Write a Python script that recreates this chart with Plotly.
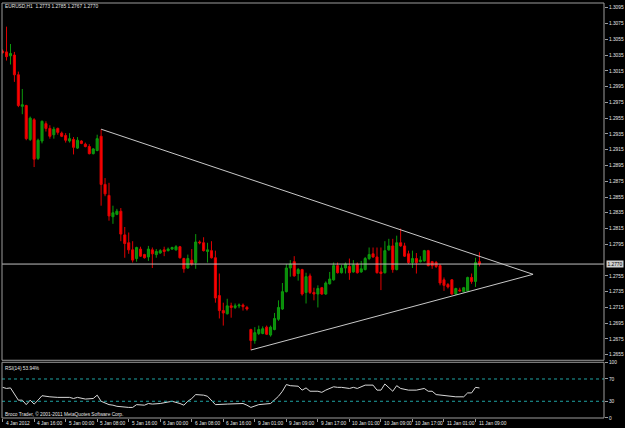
import plotly.graph_objects as go

# ---------------- data ----------------
symbol = "EURUSD,H1"
bar_index = list(range(122))

opens = [1.3040, 1.3039, 1.3034, 1.3035, 1.3010, 1.2970, 1.2971, 1.2928, 1.2953, 1.2904,
         1.2926, 1.2948, 1.2942, 1.2934, 1.2942, 1.2936, 1.2933, 1.2926, 1.2928, 1.2917,
         1.2926, 1.2922, 1.2919, 1.2910, 1.2914, 1.2932, 1.2871, 1.2857, 1.2830, 1.2833,
         1.2837, 1.2807, 1.2797, 1.2788, 1.2777, 1.2789, 1.2782, 1.2779, 1.2788, 1.2782,
         1.2784, 1.2788, 1.2787, 1.2789, 1.2788, 1.2792, 1.2777, 1.2765, 1.2775, 1.2772,
         1.2798, 1.2797, 1.2786, 1.2787, 1.2778, 1.2730, 1.2711, 1.2707, 1.2717, 1.2715,
         1.2717, 1.2718, 1.2715, 1.2687, 1.2673, 1.2682, 1.2682, 1.2690, 1.2680, 1.2687,
         1.2700, 1.2713, 1.2735, 1.2765, 1.2773, 1.2758, 1.2763, 1.2734, 1.2755, 1.2734,
         1.2732, 1.2740, 1.2732, 1.2745, 1.2750, 1.2768, 1.2759, 1.2765, 1.2767, 1.2760,
         1.2770, 1.2760, 1.2763, 1.2777, 1.2783, 1.2779, 1.2760, 1.2759, 1.2788, 1.2793,
         1.2763, 1.2797, 1.2793, 1.2783, 1.2772, 1.2777, 1.2773, 1.2774, 1.2787, 1.2773,
         1.2772, 1.2768, 1.2750, 1.2744, 1.2750, 1.2732, 1.2737, 1.2735, 1.2736, 1.2753,
         1.2748, 1.2773]

highs = [1.3042, 1.3071, 1.3049, 1.3039, 1.3014, 1.2992, 1.2972, 1.2957, 1.2955, 1.2929,
         1.2952, 1.2951, 1.2946, 1.2944, 1.2943, 1.2938, 1.2936, 1.2936, 1.2931, 1.2931,
         1.2927, 1.2924, 1.2922, 1.2917, 1.2934, 1.2941, 1.2879, 1.2873, 1.2844, 1.2840,
         1.2841, 1.2817, 1.2810, 1.2799, 1.2792, 1.2792, 1.2783, 1.2793, 1.2791, 1.2789,
         1.2789, 1.2792, 1.2791, 1.2792, 1.2794, 1.2793, 1.2778, 1.2782, 1.2789, 1.2808,
         1.2800, 1.2804, 1.2797, 1.2799, 1.2787, 1.2758, 1.2721, 1.2726, 1.2721, 1.2720,
         1.2720, 1.2720, 1.2717, 1.2688, 1.2690, 1.2692, 1.2691, 1.2692, 1.2692, 1.2708,
         1.2724, 1.2746, 1.2770, 1.2775, 1.2780, 1.2765, 1.2764, 1.2759, 1.2758, 1.2740,
         1.2743, 1.2741, 1.2748, 1.2760, 1.2772, 1.2772, 1.2769, 1.2772, 1.2777, 1.2775,
         1.2772, 1.2774, 1.2779, 1.2791, 1.2791, 1.2791, 1.2791, 1.2799, 1.2802, 1.2802,
         1.2806, 1.2815, 1.2797, 1.2787, 1.2787, 1.2784, 1.2780, 1.2788, 1.2788, 1.2774,
         1.2774, 1.2770, 1.2753, 1.2746, 1.2751, 1.2740, 1.2740, 1.2741, 1.2754, 1.2758,
         1.2778, 1.2785]

lows = [1.3037, 1.3028, 1.3023, 1.3001, 1.2969, 1.2960, 1.2927, 1.2926, 1.2893, 1.2902,
        1.2923, 1.2938, 1.2929, 1.2929, 1.2934, 1.2931, 1.2924, 1.2924, 1.2909, 1.2916,
        1.2922, 1.2918, 1.2909, 1.2909, 1.2913, 1.2844, 1.2856, 1.2825, 1.2821, 1.2832,
        1.2799, 1.2778, 1.2783, 1.2772, 1.2773, 1.2779, 1.2777, 1.2774, 1.2765, 1.2778,
        1.2783, 1.2780, 1.2786, 1.2788, 1.2787, 1.2777, 1.2759, 1.2764, 1.2768, 1.2764,
        1.2795, 1.2786, 1.2772, 1.2777, 1.2721, 1.2701, 1.2692, 1.2706, 1.2702, 1.2713,
        1.2714, 1.2711, 1.2711, 1.2661, 1.2669, 1.2680, 1.2681, 1.2680, 1.2678, 1.2686,
        1.2698, 1.2712, 1.2734, 1.2754, 1.2754, 1.2749, 1.2730, 1.2720, 1.2732, 1.2724,
        1.2715, 1.2731, 1.2731, 1.2744, 1.2749, 1.2758, 1.2758, 1.2758, 1.2750, 1.2759,
        1.2758, 1.2759, 1.2762, 1.2775, 1.2778, 1.2758, 1.2737, 1.2758, 1.2787, 1.2759,
        1.2762, 1.2792, 1.2779, 1.2770, 1.2765, 1.2758, 1.2772, 1.2773, 1.2767, 1.2764,
        1.2765, 1.2743, 1.2736, 1.2739, 1.2731, 1.2731, 1.2735, 1.2734, 1.2735, 1.2745,
        1.2741, 1.2767]

closes = [1.3038, 1.3033, 1.3037, 1.3010, 1.2971, 1.2972, 1.2929, 1.2955, 1.2903, 1.2927,
          1.2951, 1.2942, 1.2932, 1.2941, 1.2937, 1.2932, 1.2927, 1.2929, 1.2918, 1.2927,
          1.2923, 1.2919, 1.2910, 1.2916, 1.2929, 1.2871, 1.2859, 1.2831, 1.2835, 1.2837,
          1.2808, 1.2796, 1.2788, 1.2775, 1.2791, 1.2780, 1.2778, 1.2789, 1.2783, 1.2786,
          1.2787, 1.2786, 1.2789, 1.2791, 1.2792, 1.2778, 1.2764, 1.2777, 1.2770, 1.2798,
          1.2797, 1.2787, 1.2788, 1.2778, 1.2727, 1.2711, 1.2708, 1.2717, 1.2715, 1.2717,
          1.2718, 1.2716, 1.2713, 1.2673, 1.2683, 1.2687, 1.2688, 1.2681, 1.2690, 1.2701,
          1.2715, 1.2735, 1.2765, 1.2770, 1.2755, 1.2763, 1.2732, 1.2754, 1.2734, 1.2732,
          1.2739, 1.2732, 1.2746, 1.2751, 1.2768, 1.2759, 1.2765, 1.2770, 1.2759, 1.2769,
          1.2759, 1.2764, 1.2777, 1.2782, 1.2779, 1.2759, 1.2758, 1.2787, 1.2793, 1.2763,
          1.2797, 1.2793, 1.2780, 1.2772, 1.2777, 1.2772, 1.2775, 1.2787, 1.2768, 1.2768,
          1.2767, 1.2746, 1.2743, 1.2741, 1.2732, 1.2739, 1.2736, 1.2740, 1.2753, 1.2748,
          1.2772, 1.2770]

# RSI(14) (bar index, value)
rsi_idx = [0, 1, 2, 4, 5, 6, 7, 8, 9, 10, 12, 14, 17, 18, 19, 21, 23, 24, 25, 27,
           28, 29, 32, 33, 34, 36, 37, 38, 40, 42, 43, 45, 46, 47, 48, 49, 51, 52, 53, 54,
           57, 59, 61, 62, 63, 65, 67, 68, 70, 71, 72, 73, 75, 76, 77, 78, 80, 81, 82, 84,
           85, 86, 88, 89, 90, 92, 94, 95, 96, 97, 99, 100, 101, 103, 105, 107, 108, 109, 110, 112,
           114, 115, 117, 118, 119, 120, 121]
rsi_val = [55, 53, 54, 32, 32, 24, 32, 25, 32, 40, 38, 37, 37, 35, 37, 34, 35, 41, 30, 24,
           23, 21, 19, 19, 24, 23, 26, 25, 26, 28, 30, 26, 23, 30, 35, 42, 41, 39, 32, 24,
           25, 26, 26, 23, 19, 24, 25, 26, 39, 48, 60, 58, 57, 50, 54, 48, 48, 46, 50, 56,
           55, 55, 53, 55, 53, 59, 59, 50, 50, 61, 48, 58, 53, 50, 50, 53, 48, 48, 42, 40,
           38, 38, 38, 45, 45, 55, 53.94]
rsi_levels = [70, 30]
rsi_ticks = [100, 70, 30, 0]

# trendlines (bar index, price)
upper_line_x = [25, 134.6]
upper_line_y = [1.2941, 1.2757]
lower_line_x = [63, 134.6]
lower_line_y = [1.2661, 1.2757]

bid_price = 1.2770

price_ticks = [1.3095, 1.3075, 1.3055, 1.3035, 1.3015, 1.2995, 1.2975, 1.2955, 1.2935,
               1.2915, 1.2895, 1.2875, 1.2855, 1.2835, 1.2815, 1.2795, 1.2755, 1.2735,
               1.2715, 1.2695, 1.2675, 1.2655]

date_tick_idx = [0, 8, 16, 24, 32, 40, 48, 56, 64, 72, 80, 88, 96, 104, 112, 120]
date_tick_text = ["4 Jan 2012", "4 Jan 16:00", "5 Jan 00:00", "5 Jan 08:00", "5 Jan 16:00",
                  "6 Jan 00:00", "6 Jan 08:00", "6 Jan 16:00", "9 Jan 01:00", "9 Jan 09:00",
                  "9 Jan 17:00", "10 Jan 01:00", "10 Jan 09:00", "10 Jan 17:00",
                  "11 Jan 01:00", "11 Jan 09:00"]

# ---------------- layout helpers ----------------
W, H = 625, 428
ML, MR, MT, MB = 2, 19, 1, 10
PW = W - ML - MR
PH = H - MT - MB


def fx(px):
    return (px - ML) / PW


def fy(py):
    return (H - MB - py) / PH


FONT = "Liberation Sans Narrow, Liberation Sans, Arial, sans-serif"
TXT = "#e6e6e6"
BORDER = "#9c9c9c"
FS = 4.8

main_dom = [fy(360), 1.0]
rsi_dom = [0.0, fy(362)]
xr = [-0.15, 152.6]

fig = go.Figure()

fig.add_trace(go.Candlestick(
    x=bar_index, open=opens, high=highs, low=lows, close=closes,
    increasing=dict(line=dict(color="#0c9a0c", width=1), fillcolor="#0c8c0c"),
    decreasing=dict(line=dict(color="#e00000", width=1), fillcolor="#ff0000"),
    whiskerwidth=0, xaxis="x", yaxis="y", showlegend=False, hoverinfo="skip"))

for lx, ly in ((upper_line_x, upper_line_y), (lower_line_x, lower_line_y)):
    fig.add_trace(go.Scatter(x=lx, y=ly, mode="lines", xaxis="x", yaxis="y",
                             line=dict(color="#c8c8c8", width=1), showlegend=False,
                             hoverinfo="skip"))

fig.add_trace(go.Scatter(x=rsi_idx, y=rsi_val, mode="lines", xaxis="x2", yaxis="y2",
                         line=dict(color="#d8d8d8", width=1), showlegend=False,
                         hoverinfo="skip"))

shapes = []
# bid line
shapes.append(dict(type="line", xref="x domain", yref="y", x0=0, x1=1,
                   y0=bid_price, y1=bid_price, line=dict(color="#c0c0c0", width=1)))
# RSI levels
for lv in rsi_levels:
    shapes.append(dict(type="line", xref="x2 domain", yref="y2", x0=0, x1=1,
                       y0=lv, y1=lv, line=dict(color="#1fa3a3", width=1, dash="dot")))
# pane borders
shapes.append(dict(type="rect", xref="paper", yref="paper", x0=0, x1=1,
                   y0=main_dom[0], y1=1, line=dict(color=BORDER, width=1)))
shapes.append(dict(type="rect", xref="paper", yref="paper", x0=0, x1=1,
                   y0=0, y1=rsi_dom[1], line=dict(color=BORDER, width=1)))

annotations = []
header = "%s  %.4f %.4f %.4f %.4f" % (symbol, opens[-1], highs[-1], lows[-1], closes[-1])
annotations.append(dict(text=header, xref="paper", yref="paper", x=fx(3), y=fy(5),
                        xanchor="left", yanchor="middle", showarrow=False,
                        font=dict(family=FONT, size=FS, color=TXT)))
annotations.append(dict(text="RSI(14) %.2f%%" % rsi_val[-1], xref="paper", yref="paper",
                        x=fx(3), y=fy(368), xanchor="left", yanchor="middle",
                        showarrow=False, font=dict(family=FONT, size=FS, color=TXT)))
annotations.append(dict(text="Broco Trader, © 2001-2011 MetaQuotes Software Corp.",
                        xref="paper", yref="paper", x=fx(3), y=fy(414),
                        xanchor="left", yanchor="middle", showarrow=False,
                        font=dict(family=FONT, size=FS, color=TXT)))
annotations.append(dict(text="%.4f" % bid_price, xref="paper", yref="y",
                        x=fx(608), y=bid_price, xanchor="left", yanchor="middle",
                        showarrow=False, bgcolor="#d0d0d0", borderpad=0.5,
                        font=dict(family=FONT, size=FS, color="#000000")))
for ti, tt in zip(date_tick_idx, date_tick_text):
    annotations.append(dict(text=tt, xref="x2", yref="paper", x=ti, y=fy(424),
                            xanchor="left", yanchor="middle", showarrow=False,
                            xshift=1, font=dict(family=FONT, size=FS, color=TXT)))

fig.update_layout(
    width=W, height=H,
    margin=dict(l=ML, r=MR, t=MT, b=MB, pad=0),
    paper_bgcolor="#000000", plot_bgcolor="#000000",
    boxgap=0.25,
    showlegend=False,
    xaxis=dict(domain=[0, 1], anchor="y", range=xr, showticklabels=False,
               showgrid=False, zeroline=False, showline=False, ticks="",
               rangeslider=dict(visible=False), fixedrange=True),
    yaxis=dict(domain=main_dom, anchor="x", side="right", range=[1.2648, 1.3101],
               tickvals=price_ticks, ticktext=["%.4f" % t for t in price_ticks],
               tickfont=dict(family=FONT, size=FS, color=TXT),
               ticks="outside", ticklen=3, tickcolor=BORDER,
               showgrid=False, zeroline=False, showline=False, fixedrange=True),
    xaxis2=dict(domain=[0, 1], anchor="y2", matches="x", range=xr,
                tickvals=date_tick_idx, showticklabels=False, ticks="outside",
                ticklen=3, tickcolor=BORDER, showgrid=False, zeroline=False,
                showline=False, fixedrange=True),
    yaxis2=dict(domain=rsi_dom, anchor="x2", side="right", range=[0, 100],
                tickvals=rsi_ticks, ticktext=[str(t) for t in rsi_ticks],
                tickfont=dict(family=FONT, size=FS, color=TXT),
                ticks="outside", ticklen=3, tickcolor=BORDER,
                showgrid=False, zeroline=False, showline=False, fixedrange=True),
    shapes=shapes,
    annotations=annotations,
)

fig.write_html("out.html")
